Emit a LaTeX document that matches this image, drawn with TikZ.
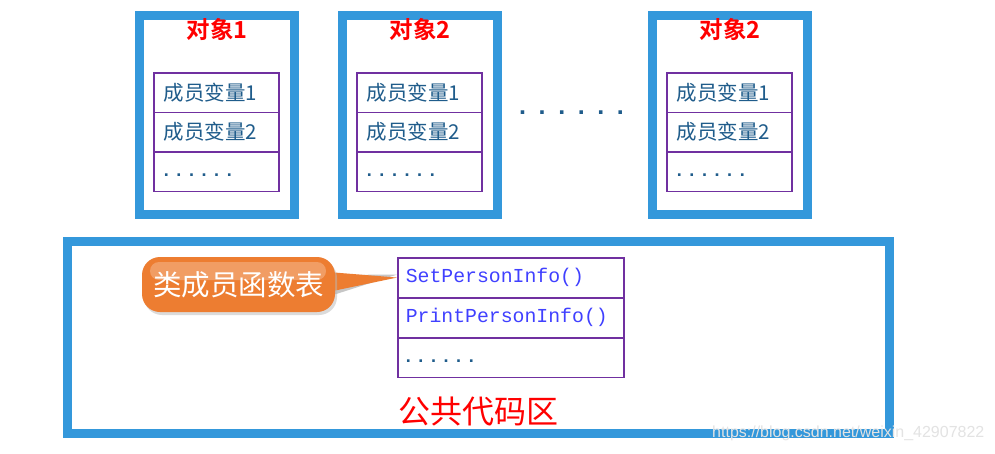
\documentclass[tikz,border=0pt]{standalone}
\usepackage{fontspec}
\setmainfont{Liberation Sans}
\newfontfamily\cjk{Noto Sans CJK SC}
\newfontfamily\cjkb{Noto Sans CJK SC Bold}
\newfontfamily\monof{Liberation Mono}
\usetikzlibrary{shadows}
\definecolor{boxblue}{RGB}{52,152,219}
\definecolor{rowpurple}{RGB}{112,48,160}
\definecolor{vartext}{RGB}{31,92,139}
\definecolor{fntext}{RGB}{64,64,255}
\definecolor{calloutorange}{RGB}{237,125,49}
\newcommand{\dotrow}[2]{.\foreach \k in {2,...,#1}{\kern#2.}}
\tikzset{
  objbox/.style={draw=boxblue, line width=9pt},
  rowbox/.style={draw=rowpurple, line width=1.6pt, minimum width=125pt, minimum height=39.5pt, inner sep=0pt, anchor=north west, text width=105pt, align=left, font=\cjk\fontsize{20.5pt}{20.5pt}\selectfont, text=vartext},
  fnrow/.style={rowbox, minimum width=226pt, text width=210pt, font=\monof\fontsize{19.8pt}{19.8pt}\selectfont, text=fntext},
  dotsrow/.style={text=vartext, font=\bfseries\fontsize{18pt}{18pt}\selectfont},
  title/.style={text=red, font=\cjkb\fontsize{23.5pt}{23.5pt}\selectfont, inner sep=0pt},
}
\begin{document}
\begin{tikzpicture}[x=1pt,y=-1pt]
\useasboundingbox (0,0) rectangle (995,453);
\fill[white] (0,0) rectangle (995,453);
% object boxes
\foreach \nm/\bx/\tx/\lab in {a/139.5/153/1, b/342.5/356/2, c/652.5/666/2}{
  \draw[objbox] (\bx,15) rectangle ++(154.5,199);
  \node[title] (t\nm) at (\bx+77.5,30) {对象\lab};
  \node[rowbox] (\nm1) at (\tx,72) {成员变量1};
  \node[rowbox] (\nm2) at (\tx,111.5) {成员变量2};
  \node[rowbox, dotsrow] (\nm3) at (\tx,151) {\raisebox{-10pt}{\dotrow{6}{7.6pt}}};
}
\node[text=vartext, font=\bfseries\fontsize{25pt}{25pt}\selectfont, inner sep=0pt] (dots) at (571.5,113) {\dotrow{6}{12.6pt}};
% public code area
\draw[objbox] (67,241.5) rectangle (889.5,433);
\node[fnrow] (f1) at (397,257) {SetPersonInfo()};
\node[fnrow] (f2) at (397,297) {PrintPersonInfo()};
\node[fnrow, dotsrow] (f3) at (397,337) {\raisebox{-10pt}{\dotrow{6}{7.6pt}}};
\node[text=red, font=\cjk\fontsize{32pt}{32pt}\selectfont, inner sep=0pt] (pub) at (478,412) {公共代码区};
% callout
\coordinate (tip) at (f1.west);
\fill[gray!45] (330,275) -- ([yshift=3pt]tip) -- (330,296) -- cycle;
\fill[calloutorange] (328,272) -- (tip) -- (328,292) -- cycle;
\node[fill=calloutorange, rounded corners=18pt, minimum width=193pt, minimum height=55pt, inner sep=0pt,
      drop shadow={shadow xshift=2pt, shadow yshift=-3pt, fill=gray!55}] (call) at (238.5,284.5) {};
\fill[white, opacity=0.25, rounded corners=9pt] (150,262) rectangle (326,280);
\node[text=white, font=\cjk\fontsize{28.5pt}{28.5pt}\selectfont, inner sep=0pt] (calltxt) at (call.center) {类成员函数表};
% watermark
\node[text=gray!22, font=\fontsize{16pt}{16pt}\selectfont, inner sep=0pt, anchor=west] (wm) at (712,433) {https://blog.csdn.net/weixin\_42907822};
\end{tikzpicture}
\end{document}
